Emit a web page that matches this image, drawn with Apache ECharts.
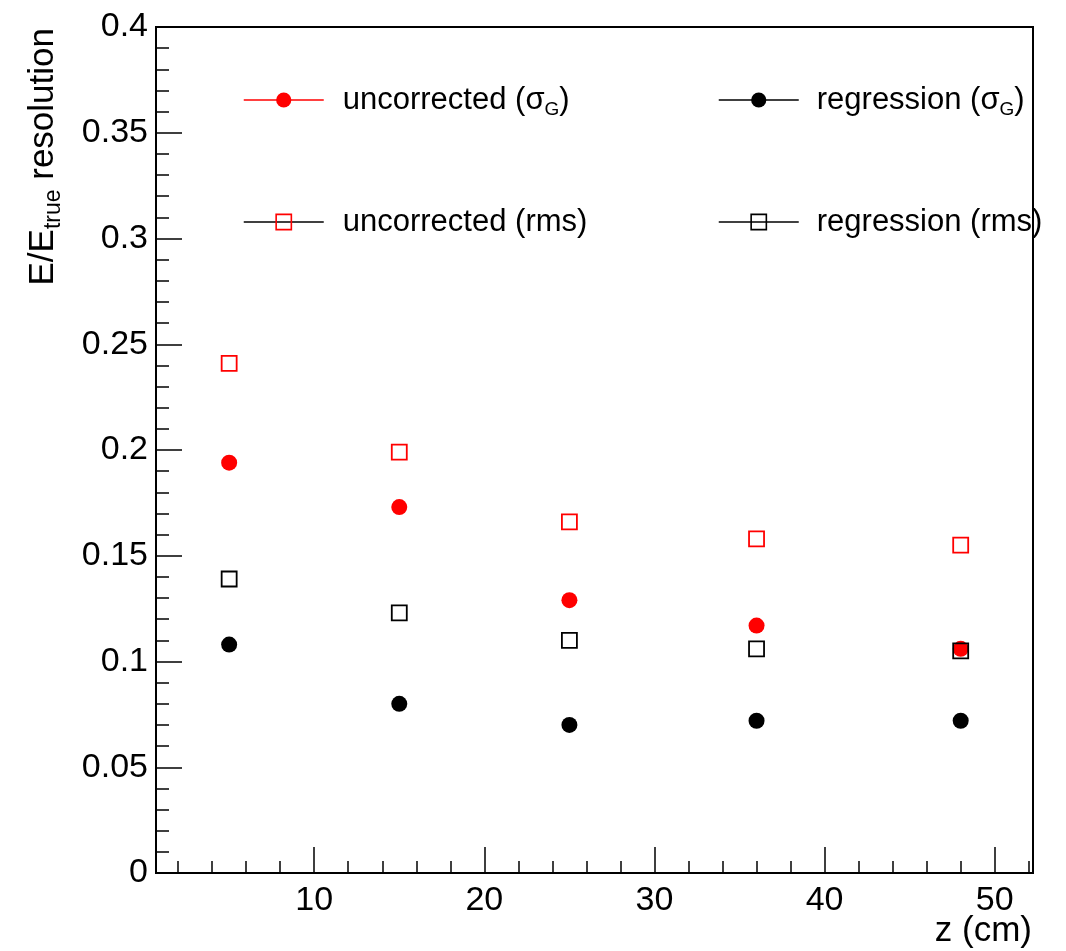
<!DOCTYPE html>
<html>
<head>
<meta charset="utf-8">
<script src="https://cdn.jsdelivr.net/npm/echarts@6/dist/echarts.min.js"></script>
<style>
html,body{margin:0;padding:0;background:#fff;}
#chart{width:1066px;height:951px;}
</style>
</head>
<body>
<div id="chart"></div>
<script>
// ---- data ----
const zValues = [5, 15, 25, 36, 48];
const uncorrectedSigmaG = [0.194, 0.173, 0.129, 0.117, 0.106];
const regressionSigmaG = [0.108, 0.080, 0.070, 0.072, 0.072];
const uncorrectedRms = [0.241, 0.199, 0.166, 0.158, 0.155];
const regressionRms = [0.139, 0.123, 0.110, 0.106, 0.105];
const xMajorTicks = [10, 20, 30, 40, 50];
const xMinorTicks = [2, 4, 6, 8, 12, 14, 16, 18, 22, 24, 26, 28, 32, 34, 36, 38, 42, 44, 46, 48, 52];
const seriesNames = ['uncorrected (σG)', 'regression (σG)', 'uncorrected (rms)', 'regression (rms)'];

const FONT = '"Liberation Sans", Arial, Helvetica, sans-serif';
const RED = '#ff0000';
const BLACK = '#000000';

function pairs(xs, ys) { return xs.map((x, i) => [x, ys[i]]); }

const chart = echarts.init(document.getElementById('chart'), null, {renderer: 'canvas'});

function mkSeries(name, values, symbol, fill, stroke) {
  return {
    name: name,
    type: 'line',
    data: pairs(zValues, values),
    symbol: symbol,
    symbolSize: symbol === 'circle' ? 16 : 15,
    showSymbol: true,
    showAllSymbol: true,
    lineStyle: {opacity: 0, width: 0},
    itemStyle: symbol === 'circle'
      ? {color: fill, borderWidth: 0}
      : {color: 'rgba(255,255,255,0)', borderColor: stroke, borderWidth: 1.8},
    emphasis: {disabled: true},
    animation: false
  };
}

const legendFormatter = name => name.replace('σG', 'σ{sub|G}');
const legendText = {
  fontSize: 31, fontFamily: FONT, color: '#000', lineHeight: 38,
  padding: [0, 0, 0, 14],
  rich: {sub: {fontSize: 19, fontFamily: FONT, color: '#000', lineHeight: 6, verticalAlign: 'bottom'}}
};

const option = {
  backgroundColor: '#fff',
  animation: false,
  grid: {left: 156, right: 33, top: 27, bottom: 78, show: true, borderColor: '#000', borderWidth: 2, backgroundColor: 'transparent'},
  xAxis: [{
    type: 'value', min: 0.7, max: 52.25, position: 'bottom',
    axisLine: {show: true, onZero: false, lineStyle: {color: '#000', width: 2}},
    axisTick: {show: true, inside: true, length: 26, customValues: xMajorTicks, lineStyle: {color: '#000', width: 1.5}},
    axisLabel: {show: true, customValues: xMajorTicks, fontSize: 34, fontFamily: FONT, color: '#000', margin: 11},
    splitLine: {show: false}
  }, {
    type: 'value', min: 0.7, max: 52.25, position: 'bottom',
    axisLine: {show: false, onZero: false},
    axisTick: {show: true, inside: true, length: 12, customValues: xMinorTicks, lineStyle: {color: '#000', width: 1.5}},
    axisLabel: {show: false, customValues: xMinorTicks},
    splitLine: {show: false}
  }],
  yAxis: [{
    type: 'value', min: 0, max: 0.4, interval: 0.05,
    axisLine: {show: true, onZero: false, lineStyle: {color: '#000', width: 2}},
    axisTick: {show: true, inside: true, length: 26, lineStyle: {color: '#000', width: 1.5}},
    minorTick: {show: true, splitNumber: 5, length: 13, lineStyle: {color: '#000', width: 1.5}},
    axisLabel: {fontSize: 34, fontFamily: FONT, color: '#000', margin: 8},
    splitLine: {show: false}, minorSplitLine: {show: false}
  }],
  legend: [{
    left: 243, top: 81, orient: 'vertical', padding: 0,
    itemWidth: 80, itemHeight: 19, itemGap: 84,
    selectedMode: false,
    formatter: legendFormatter, textStyle: legendText,
    data: [
      {name: seriesNames[0], itemStyle: {color: RED, borderWidth: 0}, lineStyle: {color: RED, width: 1.5, opacity: 1}},
      {name: seriesNames[2], itemStyle: {color: 'rgba(255,255,255,0)', borderColor: RED, borderWidth: 1.6}, lineStyle: {color: BLACK, width: 1.5, opacity: 1}}
    ]
  }, {
    left: 718, top: 81, orient: 'vertical', padding: 0,
    itemWidth: 80, itemHeight: 19, itemGap: 84,
    selectedMode: false,
    formatter: legendFormatter, textStyle: Object.assign({}, legendText, {padding: [0, 0, 0, 13]}),
    data: [
      {name: seriesNames[1], itemStyle: {color: BLACK, borderWidth: 0}, lineStyle: {color: BLACK, width: 1.5, opacity: 1}},
      {name: seriesNames[3], itemStyle: {color: 'rgba(255,255,255,0)', borderColor: BLACK, borderWidth: 1.6}, lineStyle: {color: BLACK, width: 1.5, opacity: 1}}
    ]
  }],
  graphic: [{
    type: 'text', x: 43, y: 28, rotation: Math.PI / 2, silent: true,
    style: {
      text: 'E/E{sub|true} resolution', fill: '#000', fontSize: 35, fontFamily: FONT,
      align: 'right', verticalAlign: 'middle', lineHeight: 44,
      rich: {sub: {fontSize: 23, fontFamily: FONT, fill: '#000', lineHeight: 2, verticalAlign: 'bottom'}}
    }
  }, {
    type: 'text', x: 1032, y: 931, silent: true,
    style: {text: 'z (cm)', fill: '#000', fontSize: 35, fontFamily: FONT, align: 'right', verticalAlign: 'middle'}
  }],
  series: [
    mkSeries(seriesNames[0], uncorrectedSigmaG, 'circle', RED, RED),
    mkSeries(seriesNames[1], regressionSigmaG, 'circle', BLACK, BLACK),
    mkSeries(seriesNames[2], uncorrectedRms, 'rect', null, RED),
    mkSeries(seriesNames[3], regressionRms, 'rect', null, BLACK)
  ]
};
chart.setOption(option);
</script>
</body>
</html>
